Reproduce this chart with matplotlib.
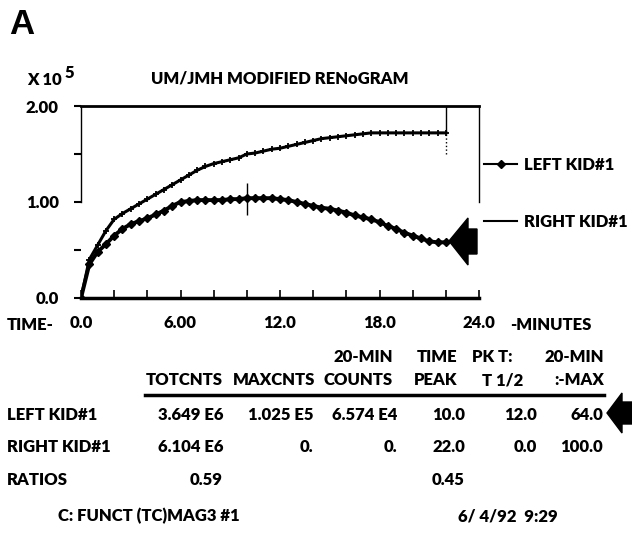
import matplotlib
matplotlib.use("Agg")
import matplotlib.pyplot as plt
from matplotlib.lines import Line2D
from matplotlib.patches import Polygon

W, H = 632, 533
FONT = ['Lato', 'DejaVu Sans']

# renogram curves, counts x 10^5, one frame every 0.5 min
minutes = [0.0, 0.5, 1.0, 1.5, 2.0, 2.5, 3.0, 3.5, 4.0, 4.5, 5.0, 5.5,
           6.0, 6.5, 7.0, 7.5, 8.0, 8.5, 9.0, 9.5, 10.0, 10.5, 11.0, 11.5,
           12.0, 12.5, 13.0, 13.5, 14.0, 14.5, 15.0, 15.5, 16.0, 16.5, 17.0,
           17.5, 18.0, 18.5, 19.0, 19.5, 20.0, 20.5, 21.0, 21.5, 22.0]
left_kid = [0.0, 0.35, 0.48, 0.56, 0.65, 0.72, 0.77, 0.80, 0.83, 0.87, 0.91,
            0.96, 1.00, 1.01, 1.02, 1.02, 1.02, 1.02, 1.03, 1.03, 1.04, 1.04,
            1.04, 1.04, 1.03, 1.02, 1.00, 0.98, 0.96, 0.94, 0.93, 0.91, 0.89,
            0.86, 0.84, 0.82, 0.79, 0.75, 0.72, 0.68, 0.65, 0.62, 0.59, 0.58,
            0.58]
right_kid = [0.0, 0.40, 0.55, 0.70, 0.82, 0.88, 0.93, 0.98, 1.03, 1.08, 1.13,
             1.18, 1.23, 1.28, 1.33, 1.37, 1.40, 1.42, 1.44, 1.46, 1.50, 1.51,
             1.53, 1.55, 1.56, 1.58, 1.60, 1.62, 1.64, 1.66, 1.67, 1.68, 1.69,
             1.70, 1.71, 1.72, 1.72, 1.72, 1.72, 1.72, 1.72, 1.72, 1.72, 1.72,
             1.72]

xtick_pos = [0, 6, 12, 18, 24]
xtick_labels = ['0.0', '6.00', '12.0', '18.0', '24.0']
ytick_pos = [0, 1, 2]
ytick_labels = ['0.0', '1.00', '2.00']

# summary table
header_1 = ['', '', '20-MIN', 'TIME', 'PK T:', '20-MIN']
header_2 = ['TOTCNTS', 'MAXCNTS', 'COUNTS', 'PEAK', 'T 1/2', ':-MAX']
row_names = ['LEFT KID#1', 'RIGHT KID#1', 'RATIOS']
left_vals = ['3.649 E6', '1.025 E5', '6.574 E4', '10.0', '12.0', '64.0']
right_vals = ['6.104 E6', '0.', '0.', '22.0', '0.0', '100.0']
ratio_vals = ['0.59', '', '', '0.45', '', '']
peak_left = 10.0
peak_right = 22.0


def fx(x):
    return x / W


def fy(y):
    return 1 - y / H


txt = dict(family=FONT, fontsize=12, fontweight='heavy', color='black')

fig = plt.figure(figsize=(W / 100, H / 100), dpi=100)
ax = fig.add_axes([fx(81), fy(298), (479 - 81) / W, (298 - 106) / H])

ax.plot(minutes, right_kid, color='black', lw=2.2, marker='+', ms=5, mew=1.3)
ax.plot(minutes, left_kid, color='black', lw=2.8, marker='D', ms=3.8)
# peak marker and end-of-study line
ax.vlines(peak_left, 0.86, 1.2, color='black', lw=1)
ax.vlines(peak_right, right_kid[-1], 2.0, color='black', lw=1)
ax.vlines(peak_right, 1.5, right_kid[-1], color='black', lw=1, linestyles=':')

ax.set_xlim(0, 24)
ax.set_ylim(0, 2)
ax.set_xticks(xtick_pos, xtick_labels, **txt)
ax.set_xticks(range(0, 25, 2), minor=True)
ax.set_yticks(ytick_pos, ytick_labels, **txt)
ax.set_yticks([0.5, 1.5], minor=True)
ax.tick_params(axis='x', which='both', direction='in', length=6, width=1.2, pad=12)
ax.tick_params(axis='y', which='both', direction='out', length=5, width=1.5, pad=11)
ax.spines['top'].set_linewidth(2)
ax.spines['bottom'].set_linewidth(2.5)
for side in ['left', 'right']:
    ax.spines[side].set_linewidth(1)
    ax.spines[side].set_bounds(1, 2)

ax.set_title('UM/JMH MODIFIED RENoGRAM', pad=16, **txt)
xten = fig.text(fx(27), fy(80), 'X 10', va='center', ha='left', **txt)
ax.annotate('5', xy=(1.0, 0.45), xycoords=xten, xytext=(2, 0),
            textcoords='offset points', va='bottom', ha='left', **txt)
fig.text(fx(9), fy(25), 'A', va='center', ha='left', family='Liberation Sans',
         fontsize=25, fontweight='bold')

fig.text(fx(7), fy(325), 'TIME-', va='center', ha='left', **txt)
fig.text(fx(510), fy(325), '-MINUTES', va='center', ha='left', **txt)

handles = [Line2D([], [], color='black', lw=1.5, marker='D', ms=3.8),
           Line2D([], [], color='black', lw=1.5)]
fig.legend(handles, ['LEFT KID#1', 'RIGHT KID#1'], loc='upper left',
           bbox_to_anchor=(fx(484), fy(157)), frameon=False, borderpad=0,
           borderaxespad=0, handlelength=2.0, handletextpad=0.4,
           labelspacing=2.45, prop=dict(family=FONT, size=12, weight='heavy'))

# table
col_right = [223, 313, 397, 465, 537, 603]
head_right = [223, 315, 393, 457, 512, 604]
head2_right = [223, 315, 393, 457, 523, 604]
for i in range(6):
    fig.text(fx(head_right[i]), fy(357), header_1[i], ha='right', va='center', **txt)
    fig.text(fx(head2_right[i]), fy(380), header_2[i], ha='right', va='center', **txt)
fig.add_artist(Line2D([fx(145), fx(604)], [fy(395), fy(395)], color='black', lw=2.5))

row_y = [415, 447, 480]
for name, vals, y in zip(row_names, [left_vals, right_vals, ratio_vals], row_y):
    fig.text(fx(7), fy(y), name, ha='left', va='center', **txt)
    for v, xr in zip(vals, col_right):
        fig.text(fx(xr), fy(y), v, ha='right', va='center', **txt)

fig.text(fx(58), fy(516), 'C: FUNCT (TC)MAG3 #1', ha='left', va='center', **txt)
fig.text(fx(458), fy(516), '6/ 4/92  9:29', ha='left', va='center', **txt)

# pointer arrows
arrow_plot = [(449, 241), (468, 218), (468, 229), (477, 229), (477, 254),
              (468, 254), (468, 265)]
arrow_table = [(607, 413), (622, 393), (622, 402), (632, 402), (632, 424),
               (622, 424), (622, 433)]
for pts in [arrow_plot, arrow_table]:
    fig.add_artist(Polygon([(fx(x), fy(y)) for x, y in pts], closed=True,
                           color='black', transform=fig.transFigure))

fig.savefig('out.png', dpi=100)
